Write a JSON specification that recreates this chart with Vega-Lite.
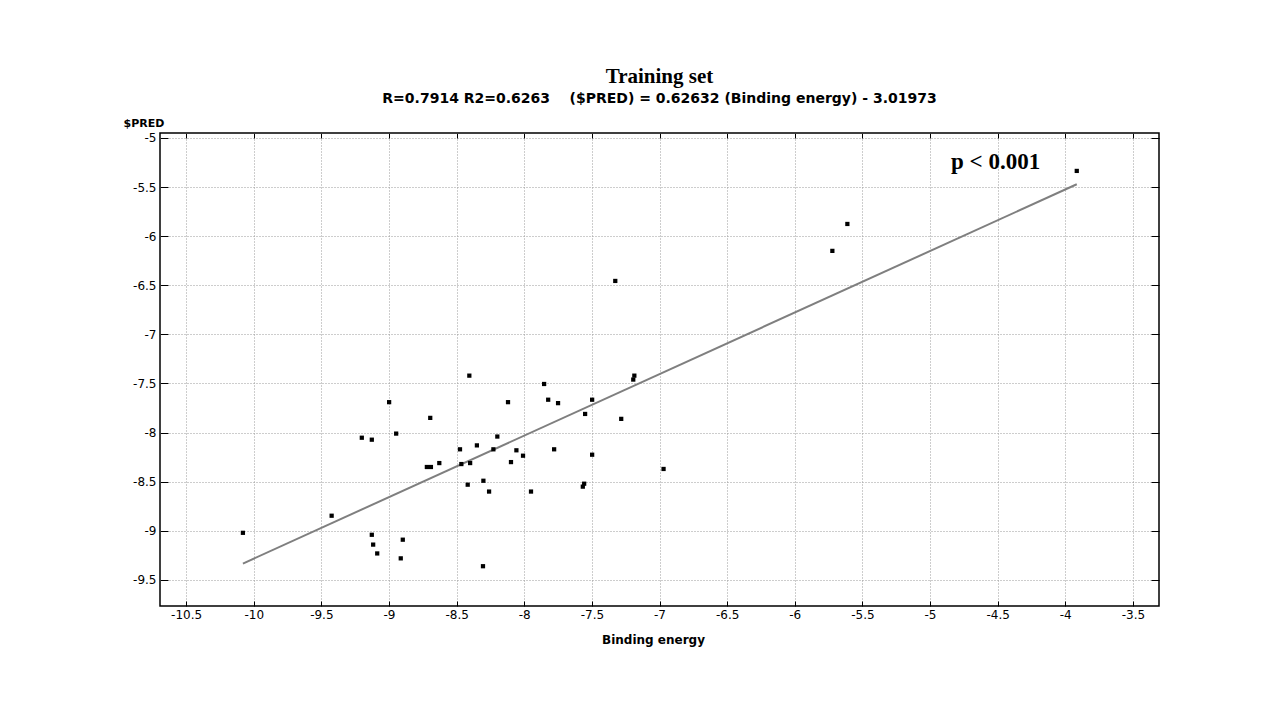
{
  "$schema": "https://vega.github.io/schema/vega-lite/v6.json",
  "width": 999,
  "height": 473,
  "autosize": {"type": "none"},
  "padding": {"left": 160, "top": 133, "right": 118, "bottom": 118},
  "background": "white",
  "title": {
    "text": "Training set",
    "subtitle": "R=0.7914 R2=0.6263\u00a0\u00a0\u00a0\u00a0($PRED) = 0.62632 (Binding energy) - 3.01973",
    "anchor": "middle",
    "font": "Liberation Serif",
    "fontSize": 21,
    "fontWeight": "bold",
    "color": "#000",
    "subtitleFont": "DejaVu Sans",
    "subtitleFontSize": 14,
    "subtitleFontWeight": "bold",
    "subtitleColor": "#000",
    "subtitlePadding": 5,
    "offset": 11
  },
  "config": {
    "locale": {"number": {"decimal": ".", "thousands": ",", "grouping": [3], "currency": ["$", ""], "minus": "-"}},
    "view": {"stroke": "#000", "strokeWidth": 1.5},
    "axis": {
      "domain": false,
      "labelFont": "DejaVu Sans",
      "labelFontSize": 12,
      "labelColor": "#000",
      "tickColor": "#000",
      "tickWidth": 1,
      "titleFont": "DejaVu Sans",
      "titleFontSize": 12,
      "titleFontWeight": "bold",
      "titleColor": "#000",
      "gridColor": "#9a9a9a",
      "gridDash": [1, 2],
      "gridWidth": 1,
      "gridOpacity": 1
    }
  },
  "layer": [
    {
      "data": {"values": [{"x": -10.08, "y": -9.333}, {"x": -3.915, "y": -5.472}]},
      "mark": {"type": "line", "color": "#7f7f7f", "strokeWidth": 2},
      "encoding": {
        "x": {
          "field": "x", "type": "quantitative",
          "scale": {"domain": [-10.693, -3.307], "nice": false, "zero": false},
          "axis": {"orient": "bottom", "title": "Binding energy", "values": [-10.5, -10, -9.5, -9, -8.5, -8, -7.5, -7, -6.5, -6, -5.5, -5, -4.5, -4, -3.5], "format": "~g", "grid": true, "tickSize": -5, "labelPadding": 8, "titlePadding": 14, "titleX": 493}
        },
        "y": {
          "field": "y", "type": "quantitative",
          "scale": {"domain": [-9.765, -4.95], "nice": false, "zero": false},
          "axis": {"orient": "left", "title": "$PRED", "titleFontSize": 11, "values": [-9.5, -9, -8.5, -8, -7.5, -7, -6.5, -6, -5.5, -5], "format": "~g", "grid": true, "tickSize": -8, "labelPadding": 12, "titleAngle": 0, "titleAlign": "left", "titleBaseline": "alphabetic", "titleX": -37, "titleY": -7}
        }
      }
    },
    {
      "data": {"values": [
        {"x": -10.08, "y": -9.02}, {"x": -9.424, "y": -8.846}, {"x": -9.201, "y": -8.052}, {"x": -9.127, "y": -8.072},
        {"x": -8.999, "y": -7.69}, {"x": -8.947, "y": -8.01}, {"x": -9.127, "y": -9.04}, {"x": -9.117, "y": -9.14},
        {"x": -9.087, "y": -9.23}, {"x": -8.898, "y": -9.09}, {"x": -8.913, "y": -9.28}, {"x": -8.695, "y": -7.85},
        {"x": -8.72, "y": -8.35}, {"x": -8.69, "y": -8.35}, {"x": -8.628, "y": -8.31}, {"x": -8.475, "y": -8.17},
        {"x": -8.465, "y": -8.32}, {"x": -8.406, "y": -7.42}, {"x": -8.4, "y": -8.31}, {"x": -8.418, "y": -8.53},
        {"x": -8.35, "y": -8.13}, {"x": -8.302, "y": -8.49}, {"x": -8.26, "y": -8.6}, {"x": -8.305, "y": -9.36},
        {"x": -8.228, "y": -8.17}, {"x": -8.199, "y": -8.04}, {"x": -8.12, "y": -7.69}, {"x": -8.098, "y": -8.3},
        {"x": -8.058, "y": -8.18}, {"x": -8.009, "y": -8.235}, {"x": -7.95, "y": -8.6}, {"x": -7.853, "y": -7.505},
        {"x": -7.823, "y": -7.665}, {"x": -7.75, "y": -7.7}, {"x": -7.779, "y": -8.17}, {"x": -7.55, "y": -7.81},
        {"x": -7.498, "y": -7.665}, {"x": -7.498, "y": -8.225}, {"x": -7.567, "y": -8.55}, {"x": -7.557, "y": -8.52},
        {"x": -7.283, "y": -7.86}, {"x": -7.194, "y": -7.46}, {"x": -7.186, "y": -7.42}, {"x": -6.97, "y": -8.37},
        {"x": -7.327, "y": -6.456}, {"x": -3.915, "y": -5.336}, {"x": -5.611, "y": -5.876}, {"x": -5.722, "y": -6.15}
      ]},
      "mark": {"type": "square", "size": 18, "color": "#000", "filled": true, "opacity": 1},
      "encoding": {
        "x": {"field": "x", "type": "quantitative", "axis": {"orient": "top", "title": null, "labels": false, "grid": false, "values": [-10.5, -10, -9.5, -9, -8.5, -8, -7.5, -7, -6.5, -6, -5.5, -5, -4.5, -4, -3.5], "tickSize": -5}},
        "y": {"field": "y", "type": "quantitative", "axis": {"orient": "right", "title": null, "labels": false, "grid": false, "values": [-9.5, -9, -8.5, -8, -7.5, -7, -6.5, -6, -5.5, -5], "tickSize": -8}}
      }
    },
    {
      "data": {"values": [{"x": -4.515, "y": -5.313, "label": "p < 0.001"}]},
      "mark": {"type": "text", "font": "Liberation Serif", "fontSize": 23, "fontWeight": "bold", "color": "#000", "align": "center", "baseline": "alphabetic"},
      "encoding": {
        "x": {"field": "x", "type": "quantitative", "axis": null},
        "y": {"field": "y", "type": "quantitative", "axis": null},
        "text": {"field": "label"}
      }
    }
  ],
  "resolve": {"axis": {"x": "independent", "y": "independent"}}
}
